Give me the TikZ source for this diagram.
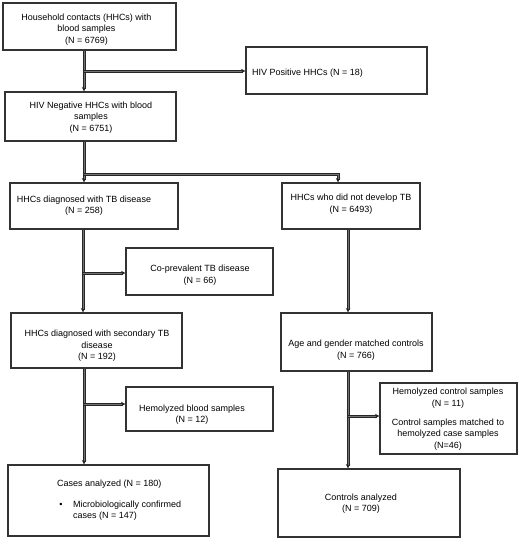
\documentclass[tikz,border=0pt]{standalone}
\usepackage{fontspec}
\setmainfont{Liberation Sans}
\usetikzlibrary{arrows.meta}
\tikzset{
  box/.style={draw=black!80, line width=1.1pt, rectangle, inner sep=0pt},
  txt/.style={font=\fontsize{9}{11.5}\selectfont, text=black, inner sep=0pt, align=center},
  conn/.style={draw=black!85, line width=1pt, double=black!55, double distance=1pt, -{Stealth[length=4.5pt,width=4.5pt]}}
}
\begin{document}
\begin{tikzpicture}[x=1pt,y=-1pt]
\useasboundingbox (0,0) rectangle (520,541);
% boxes
\node[box, minimum width=173pt, minimum height=47pt] (b1) at (89.5,26.5) {};
\node[box, minimum width=181pt, minimum height=47pt] (hivpos) at (336.5,70.5) {};
\node[box, minimum width=171pt, minimum height=49pt] (b2) at (90.5,116.5) {};
\node[box, minimum width=168pt, minimum height=46pt] (tb) at (94,206) {};
\node[box, minimum width=138pt, minimum height=46pt] (notb) at (351,206) {};
\node[box, minimum width=147pt, minimum height=47pt] (cop) at (199.5,271.5) {};
\node[box, minimum width=171pt, minimum height=55pt] (sec) at (96.5,340.5) {};
\node[box, minimum width=151pt, minimum height=58pt] (age) at (356.5,342) {};
\node[box, minimum width=147pt, minimum height=44pt] (hem) at (199.5,409) {};
\node[box, minimum width=137pt, minimum height=71pt] (hemc) at (448.5,418.5) {};
\node[box, minimum width=201pt, minimum height=71pt] (cases) at (108.5,500.5) {};
\node[box, minimum width=182pt, minimum height=68pt] (ctrl) at (369,503) {};
% texts
\node[txt] (t1) at (86.5,29.5) {Household contacts (HHCs) with\\blood samples\\(N = 6769)};
\node[txt, anchor=west] (thiv) at (252,73) {HIV Positive HHCs (N = 18)};
\node[txt] (t2) at (91,117.5) {HIV Negative HHCs with blood\\samples\\(N = 6751)};
\node[txt] (ttb) at (84,205.5) {HHCs diagnosed with TB disease\\(N = 258)};
\node[txt] (tnotb) at (351,204) {HHCs who did not develop TB\\(N = 6493)};
\node[txt] (tcop) at (200,275) {Co-prevalent TB disease\\(N = 66)};
\node[txt] (tsec) at (97,346) {HHCs diagnosed with secondary TB\\disease\\(N = 192)};
\node[txt] (tage) at (356,350) {Age and gender matched controls\\(N = 766)};
\node[txt] (them) at (192,414.5) {Hemolyzed blood samples\\(N = 12)};
\node[txt] (themc) at (448,419) {Hemolyzed control samples\\(N = 11)\\[7.5pt]Control samples matched to\\hemolyzed case samples\\(N=46)};
\node[txt, anchor=west] (tcases) at (57,484) {Cases analyzed (N = 180)};
\node[txt] (tbul) at (61,505) {\textbullet};
\node[txt, anchor=west, align=left] (titem) at (73,510.5) {Microbiologically confirmed\\cases (N = 147)};
\node[txt] (tctrl) at (361,503.5) {Controls analyzed\\(N = 709)};
% junctions
\coordinate (j1) at (84,71);
\coordinate (j2) at (84,174);
\coordinate (k2) at (338,174);
\coordinate (j3) at (83,273);
\coordinate (j4) at (84,404);
\coordinate (j5) at (348,416);
% connectors
\draw[conn] (b1.south -| j1) -- (b2.north -| j1);
\draw[conn] (j1) -- (hivpos.west |- j1);
\draw[conn] (b2.south -| j2) -- (tb.north -| j2);
\draw[conn] (j2) -- (k2) -- (notb.north -| k2);
\draw[conn] (tb.south -| j3) -- (sec.north -| j3);
\draw[conn] (j3) -- (cop.west |- j3);
\draw[conn] (sec.south -| j4) -- (cases.north -| j4);
\draw[conn] (j4) -- (hem.west |- j4);
\draw[conn] (notb.south -| j5) -- (age.north -| j5);
\draw[conn] (age.south -| j5) -- (ctrl.north -| j5);
\draw[conn] (j5) -- (hemc.west |- j5);
\end{tikzpicture}
\end{document}
